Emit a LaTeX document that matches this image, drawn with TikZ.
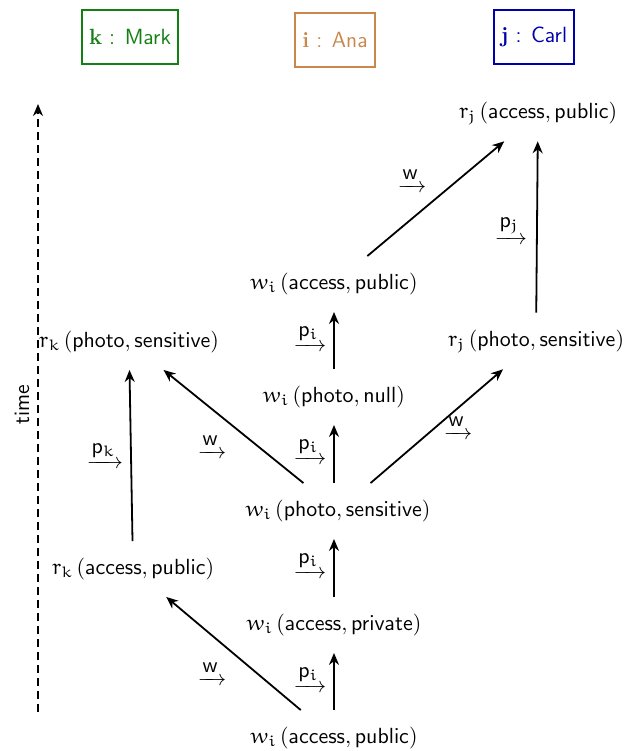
\documentclass[tikz,border=0pt]{standalone}
\usepackage{amsmath}
\usetikzlibrary{arrows.meta}
\DeclareMathAlphabet{\mathEu}{U}{eur}{m}{n}
\newcommand{\Eu}[1]{\mathEu{#1}}
\definecolor{kgreen}{RGB}{20,128,20}
\definecolor{ibrown}{RGB}{200,135,75}
\definecolor{jblue}{RGB}{0,0,170}
\newcommand{\elbl}[1]{$\xrightarrow{\textstyle #1}$}
\begin{document}
\begin{tikzpicture}[x=0.5pt,y=-0.5pt,
  txt/.style={font=\fontsize{11}{13}\selectfont\sffamily, inner sep=3pt, outer sep=5.5pt},
  arr/.style={-{Stealth[length=6pt,width=5pt]}, line width=0.9pt},
  hdr/.style={draw, line width=1pt, minimum height=27pt, inner xsep=3.5pt, font=\fontsize{11}{13}\selectfont\sffamily},
  elab/.style={font=\fontsize{11}{13}\selectfont, inner sep=0pt}]
\useasboundingbox (0,0) rectangle (629,751);

% headers
\node[hdr, kgreen, text=kgreen] (hk) at (130,37) {{\rmfamily\bfseries k} : Mark};
\node[hdr, ibrown, text=ibrown] (hi) at (335,40) {{\rmfamily\bfseries i} : Ana};
\node[hdr, jblue, text=jblue] (hj) at (534,37) {{\rmfamily\bfseries j} : Carl};

% time axis
\coordinate (t0) at (38,712);
\coordinate (t1) at (38,104);
\draw[line width=0.9pt, dash pattern=on 4pt off 2.5pt, -{Stealth[length=6pt,width=5pt]}] (t0) -- (t1);
\node[txt, rotate=90, outer sep=0pt] (time) at (22,405) {time};

% i column
\node[txt] (w1) at (334,738) {$\Eu{w}_{\Eu{i}}\,(\mathsf{access}, \mathsf{public})$};
\node[txt] (w2) at (334,625) {$\Eu{w}_{\Eu{i}}\,(\mathsf{access}, \mathsf{private})$};
\node[txt] (w3) at (338,511) {$\Eu{w}_{\Eu{i}}\,(\mathsf{photo}, \mathsf{sensitive})$};
\node[txt] (w4) at (334,397) {$\Eu{w}_{\Eu{i}}\,(\mathsf{photo}, \mathsf{null})$};
\node[txt] (w5) at (334,284) {$\Eu{w}_{\Eu{i}}\,(\mathsf{access}, \mathsf{public})$};

% k column
\node[txt] (rk1) at (133,569) {$\Eu{r}_{\Eu{k}}\,(\mathsf{access}, \mathsf{public})$};
\node[txt] (rk2) at (129,342) {$\Eu{r}_{\Eu{k}}\,(\mathsf{photo}, \mathsf{sensitive})$};

% j column
\node[txt] (rj2) at (536,341) {$\Eu{r}_{\Eu{j}}\,(\mathsf{photo}, \mathsf{sensitive})$};
\node[txt] (rj1) at (538,113) {$\Eu{r}_{\Eu{j}}\,(\mathsf{access}, \mathsf{public})$};

% vertical i arrows
\draw[arr] (w1.north -| w1) -- (w2);
\draw[arr] (w2) -- (w3.south -| w2);
\draw[arr] (w3.north -| w2) -- (w4);
\draw[arr] (w4) -- (w5);

% other arrows
\draw[arr] (w1) -- (rk1);
\draw[arr] (rk1) -- (rk2);
\draw[arr] (w3) -- (rk2);
\draw[arr] (w3) -- (rj2);
\draw[arr] (w5) -- (rj1);
\draw[arr] (rj2) -- (rj1);

% edge labels
\node[elab] (lp1) at (310,679) {\elbl{\mathsf{p}_{\Eu{i}}}};
\node[elab] (lp2) at (310,565) {\elbl{\mathsf{p}_{\Eu{i}}}};
\node[elab] (lp3) at (310,451) {\elbl{\mathsf{p}_{\Eu{i}}}};
\node[elab] (lp4) at (310,338) {\elbl{\mathsf{p}_{\Eu{i}}}};
\node[elab] (lw1) at (212,673) {\elbl{\mathsf{w}}};
\node[elab] (lw2) at (212,446) {\elbl{\mathsf{w}}};
\node[elab] (lw3) at (458,427) {\elbl{\mathsf{w}}};
\node[elab] (lw4) at (412,180) {\elbl{\mathsf{w}}};
\node[elab] (lpk) at (105,455) {\elbl{\mathsf{p}_{\Eu{k}}}};
\node[elab] (lpj) at (511,230) {\elbl{\mathsf{p}_{\Eu{j}}}};
\end{tikzpicture}
\end{document}
